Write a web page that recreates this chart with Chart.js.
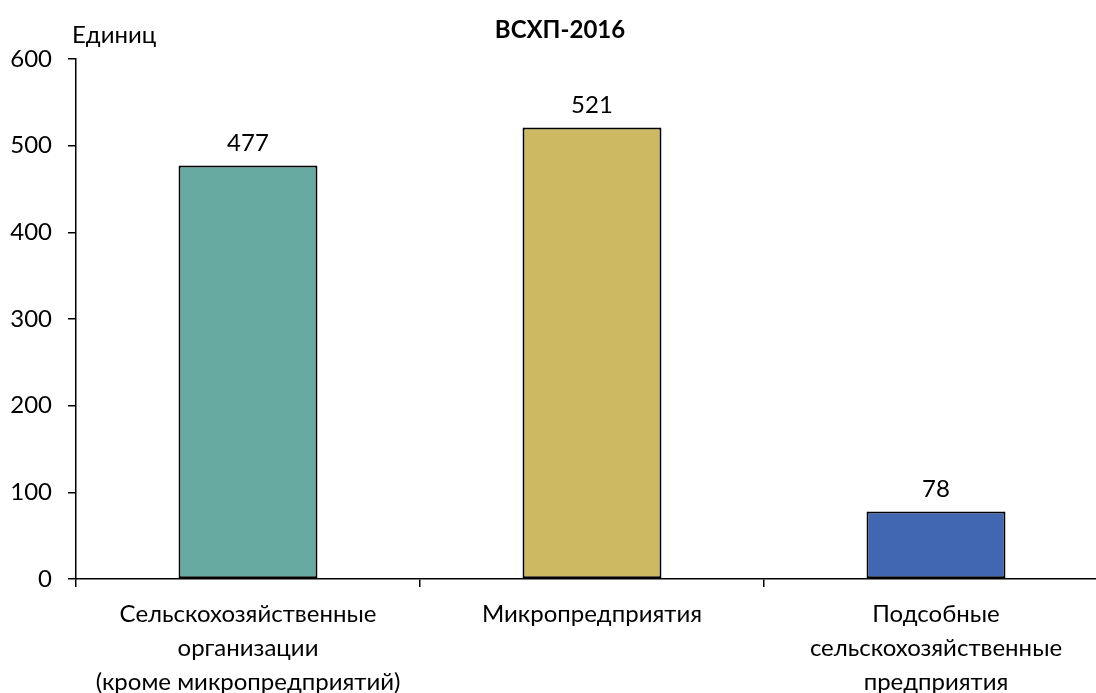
<!DOCTYPE html>
<html><head><meta charset="utf-8">
<script src="https://cdn.jsdelivr.net/npm/chart.js@4"></script>
<style>html,body{margin:0;padding:0;background:#fff;overflow:hidden}#wrap{width:1108px;height:693px}</style>
</head><body>
<div id="wrap"><canvas id="c" width="1108" height="693"></canvas></div>
<script>
const categories = [
  ["Сельскохозяйственные", "организации", "(кроме микропредприятий)"],
  ["Микропредприятия"],
  ["Подсобные", "сельскохозяйственные", "предприятия"]
];
const values = [477, 521, 78];
const barColors = ["#66AAA2", "#CEB963", "#4267B2"];
const yTicks = [0, 100, 200, 300, 400, 500, 600];
const titleText = "ВСХП-2016";
const unitText = "Единиц";

const FONT = "Lato";
const FS = 24;

const overlay = {
  id: "overlay",
  afterDatasetsDraw(chart) {
    const ctx = chart.ctx;
    ctx.save();
    ctx.fillStyle = "#000";
    ctx.font = `${FS}px ${FONT}`;
    ctx.textAlign = "center";
    ctx.textBaseline = "middle";
    const meta = chart.getDatasetMeta(0);
    meta.data.forEach((bar, i) => {
      ctx.fillText(String(values[i]), bar.x, bar.y - 22);
    });
    ctx.textAlign = "left";
    ctx.fillText(unitText, chart.chartArea.left - 4, 35);
    ctx.font = `bold ${FS}px ${FONT}`;
    ctx.textAlign = "center";
    ctx.fillText(titleText, 560, 30);
    ctx.restore();
  }
};

new Chart(document.getElementById("c"), {
  type: "bar",
  data: {
    labels: categories,
    datasets: [{
      data: values,
      backgroundColor: barColors,
      borderColor: "#000",
      borderWidth: 2,
      borderSkipped: false,
      barPercentage: 0.404,
      categoryPercentage: 1
    }]
  },
  options: {
    responsive: false,
    animation: false,
    layout: { padding: { top: 59, right: 0, left: 0, bottom: 0 } },
    plugins: { legend: { display: false }, tooltip: { enabled: false }, title: { display: false } },
    scales: {
      x: {
        grid: { offset: true, drawOnChartArea: false, drawTicks: true, tickLength: 8, color: "#000", lineWidth: 1.5 },
        border: { display: true, color: "#000", width: 1.5 },
        ticks: { color: "#000", font: { family: FONT, size: FS, lineHeight: 1.42 }, padding: 10, maxRotation: 0, autoSkip: false },
        afterFit(s) { s.height = 114; }
      },
      y: {
        min: 0, max: 600,
        afterBuildTicks(s) { s.ticks = yTicks.map(v => ({ value: v })); },
        grid: { drawOnChartArea: false, drawTicks: true, tickLength: 8, color: "#000", lineWidth: 1.5 },
        border: { display: true, color: "#000", width: 1.5 },
        ticks: { color: "#000", font: { family: FONT, size: FS }, padding: 16 },
        afterFit(s) { s.width = 76; }
      }
    }
  },
  plugins: [overlay]
});
</script>
</body></html>
